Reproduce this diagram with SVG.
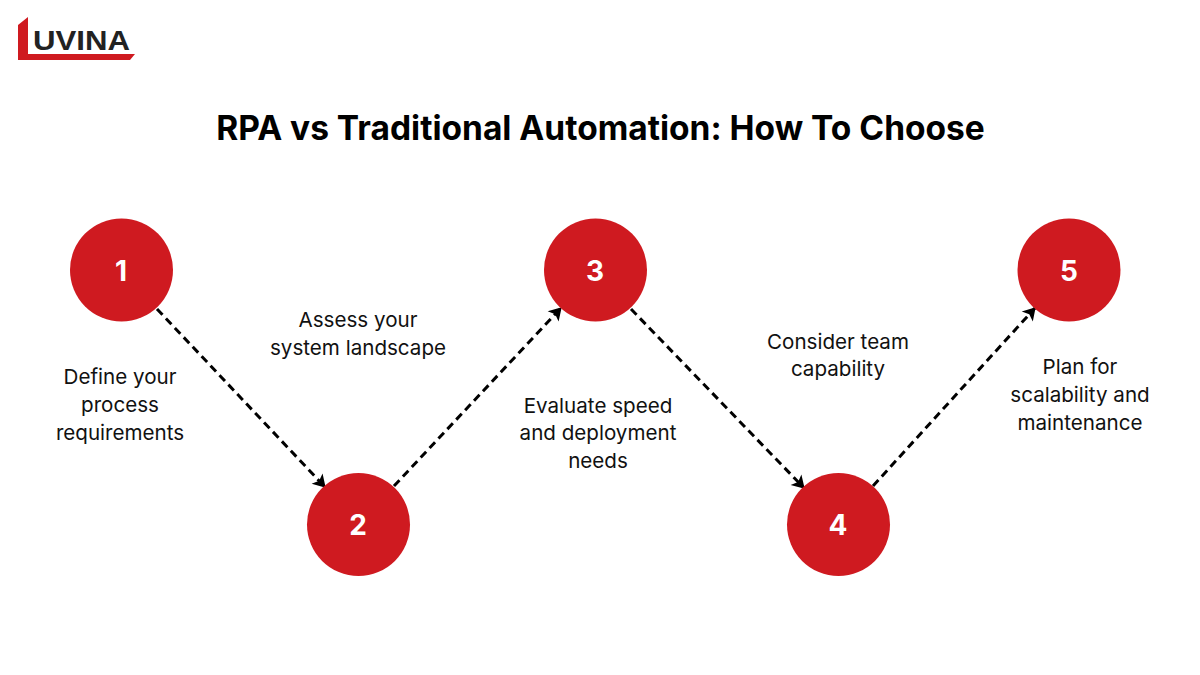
<svg xmlns="http://www.w3.org/2000/svg" width="1200" height="675" viewBox="0 0 1200 675">
<style>
text{font-family:"Inter","Noto Sans",sans-serif;text-anchor:middle}
.t{font-size:20.6px;fill:#111}
.n{font-size:28px;font-weight:700;fill:#fff}
.c{fill:#cf1a20}
.l{stroke:#000;stroke-width:3;stroke-dasharray:8 5;fill:none;marker-end:url(#a)}
</style>
<defs><marker id="a" markerUnits="userSpaceOnUse" markerWidth="18" markerHeight="18" refX="13" refY="8" orient="auto"><path d="M1.500 0.500 L14 8 L1.500 15.500 L4.500 8Z" fill="#000"/></marker></defs>
<rect width="1200" height="675" fill="#fff"/>
<g id="logo"><path d="M18 25 L28 17 V54 H135 L130 60 H18Z" fill="#cf1a20"/><text x="81.500" y="50" style="font-family:'Liberation Sans',sans-serif;font-weight:700;font-size:27px" textLength="97" lengthAdjust="spacingAndGlyphs" fill="#222">UVINA</text></g>
<text id="title" x="600.500" y="140" style="font-size:33.500px;font-weight:700" fill="#000">RPA vs Traditional Automation: How To Choose</text>
<g id="connectors">
<path class="l" d="M157 309 L325 487"/>
<path class="l" d="M394 486 L561 308"/>
<path class="l" d="M631 309 L804 488"/>
<path class="l" d="M873 486 L1035 308"/>
</g>
<g id="node1"><circle class="c" cx="121.500" cy="270" r="51.500"/><text class="n" x="121" y="281">1</text><text class="t" x="120" y="384">Define your</text><text class="t" x="120" y="412">process</text><text class="t" x="120" y="440">requirements</text></g>
<g id="node2"><circle class="c" cx="358.500" cy="524.500" r="51.500"/><text class="n" x="358" y="535">2</text><text class="t" x="358" y="327">Assess your</text><text class="t" x="358" y="355">system landscape</text></g>
<g id="node3"><circle class="c" cx="595.500" cy="270" r="51.500"/><text class="n" x="595" y="281">3</text><text class="t" x="598" y="413">Evaluate speed</text><text class="t" x="598" y="440">and deployment</text><text class="t" x="598" y="468">needs</text></g>
<g id="node4"><circle class="c" cx="838.500" cy="524.500" r="51.500"/><text class="n" x="838" y="535">4</text><text class="t" x="838" y="349">Consider team</text><text class="t" x="838" y="376">capability</text></g>
<g id="node5"><circle class="c" cx="1069" cy="270" r="51.500"/><text class="n" x="1069" y="281">5</text><text class="t" x="1080" y="374">Plan for</text><text class="t" x="1080" y="402">scalability and</text><text class="t" x="1080" y="430">maintenance</text></g>
</svg>
